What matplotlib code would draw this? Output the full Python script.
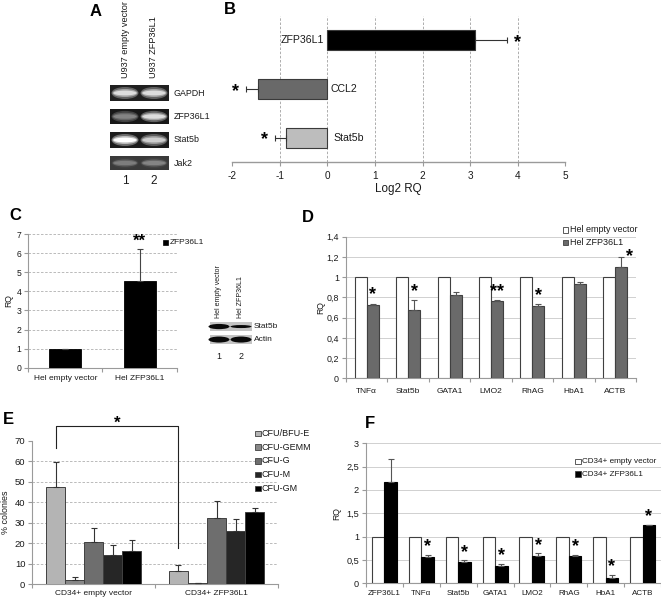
import matplotlib
matplotlib.use('Agg')
import matplotlib.pyplot as plt
import numpy as np
from matplotlib.patches import Rectangle, Ellipse
from matplotlib.ticker import FuncFormatter, FixedLocator

W, H = 661, 603
plt.rcParams['font.family'] = ['Liberation Sans', 'DejaVu Sans']
plt.rcParams['axes.unicode_minus'] = False

# ---------------- data ----------------
# Panel A (RT-PCR gel, band intensities per lane)
a_lanes = ['U937 empty vector', 'U937 ZFP36L1']
a_genes = ['GAPDH', 'ZFP36L1', 'Stat5b', 'Jak2']
a_gapdh = [0.85, 0.85]
a_zfp36l1 = [0.45, 0.85]
a_stat5b = [1.0, 0.78]
a_jak2 = [0.42, 0.45]

# Panel B
b_genes = ['Stat5b', 'CCL2', 'ZFP36L1']
b_log2rq = [-0.88, -1.47, 3.10]
b_err = [0.22, 0.25, 0.67]
b_sig = ['*', '*', '*']

# Panel C
c_groups = ['Hel empty vector', 'Hel ZFP36L1']
c_rq = [1.0, 4.55]
c_err = [0.0, 1.65]
c_sig = ['', '**']
c_blot_lanes = ['Hel empty vector', 'Hel ZFP36L1']
c_blot_stat5b = [0.95, 0.55]
c_blot_actin = [1.0, 1.0]

# Panel D
d_genes = ['TNFα', 'Stat5b', 'GATA1', 'LMO2', 'RhAG', 'HbA1', 'ACTB']
d_empty = [1, 1, 1, 1, 1, 1, 1]
d_zfp = [0.725, 0.675, 0.822, 0.762, 0.718, 0.928, 1.103]
d_err = [0.012, 0.097, 0.033, 0.008, 0.012, 0.022, 0.097]
d_sig = ['*', '*', '', '**', '*', '', '*']

# Panel E
e_groups = ['CD34+ empty vector', 'CD34+ ZFP36L1']
e_types = ['CFU/BFU-E', 'CFU-GEMM', 'CFU-G', 'CFU-M', 'CFU-GM']
e_bfu = [47.5, 6.5]
e_bfu_err = [12.0, 3.0]
e_gemm = [2.0, 0.4]
e_gemm_err = [1.5, 0.3]
e_g = [20.3, 32.3]
e_g_err = [7.2, 8.3]
e_m = [14.0, 25.7]
e_m_err = [5.2, 6.0]
e_gm = [16.0, 35.3]
e_gm_err = [5.5, 1.8]

# Panel F
f_genes = ['ZFP36L1', 'TNFα', 'Stat5b', 'GATA1', 'LMO2', 'RhAG', 'HbA1', 'ACTB']
f_empty = [1, 1, 1, 1, 1, 1, 1, 1]
f_zfp = [2.18, 0.57, 0.45, 0.37, 0.58, 0.58, 0.12, 1.24]
f_err = [0.48, 0.03, 0.04, 0.04, 0.06, 0.02, 0.05, 0.02]
f_sig = ['', '*', '*', '*', '*', '*', '*', '*']

# ---------------- helpers ----------------
fig = plt.figure(figsize=(W / 100, H / 100), dpi=100)
fig.patch.set_facecolor('white')


def px_axes(l, t, r, b):
    return fig.add_axes([l / W, 1 - b / H, (r - l) / W, (b - t) / H])


AX = '#9a9a9a'
TXT = '#1a1a1a'


def excel_axes(ax, ncat, ylabsize, xlabsize, xpad):
    for s in ['top', 'right']:
        ax.spines[s].set_visible(False)
    for s in ['left', 'bottom']:
        ax.spines[s].set_color(AX)
        ax.spines[s].set_linewidth(0.8)
    ax.set_xlim(-0.5, ncat - 0.5)
    ax.xaxis.set_major_locator(FixedLocator(np.arange(ncat)))
    ax.xaxis.set_minor_locator(FixedLocator(np.arange(ncat + 1) - 0.5))
    ax.tick_params(axis='x', which='major', length=0, labelsize=xlabsize, pad=xpad, colors=TXT)
    ax.tick_params(axis='x', which='minor', length=3, color=AX, width=0.8)
    ax.tick_params(axis='y', which='major', length=3, color=AX, width=0.8, labelsize=ylabsize,
                   colors=TXT, pad=2)
    ax.tick_params(axis='y', colors=AX, labelcolor=TXT)
    ax.tick_params(axis='x', which='major', labelcolor=TXT)
    ax.set_facecolor('none')


def comma_fmt(v, pos):
    s = ('%.1f' % v).rstrip('0').rstrip('.')
    return s.replace('.', ',')


def star(ax, x, y, s, dy=6.5, size=13):
    if s:
        ax.annotate(s, xy=(x, y), xytext=(0, dy), textcoords='offset points',
                    ha='center', va='center', fontsize=size, fontweight='bold',
                    color='black', annotation_clip=False)


ov = fig.add_axes([0, 0, 1, 1], zorder=20)
ov.set_xlim(0, W)
ov.set_ylim(H, 0)
ov.axis('off')
ov.patch.set_alpha(0)

# ---------------- Panel A ----------------
ov.text(96, 11, 'A', fontsize=12, fontweight='bold', ha='center', va='center')
lane_x = [125, 154]
for lx, lab in zip(lane_x, a_lanes):
    ov.text(lx, 78, lab, rotation=90, ha='center', va='bottom', fontsize=6.6, color=TXT)
rows = [(85, 101), (109, 124), (132, 148), (156, 170)]
row_vals = [a_gapdh, a_zfp36l1, a_stat5b, a_jak2]
row_bg = ['#202020', '#181818', '#1c1c1c', '#3a3a3a']
for (t, b), vals, lab, bg in zip(rows, row_vals, a_genes, row_bg):
    ov.add_patch(Rectangle((110, t), 59, b - t, facecolor=bg, edgecolor='none'))
    cy = (t + b) / 2
    for lx, v in zip(lane_x, vals):
        for sw, sh, f in [(1.08, 0.75, 0.35), (1.0, 0.5, 0.7), (0.92, 0.3, 1.0)]:
            g = min(1.0, 0.12 + v * f * 0.88)
            ov.add_patch(Ellipse((lx, cy), 25 * sw, (b - t) * sh, facecolor=(g, g, g),
                                 edgecolor='none'))
    ov.text(174, cy, lab, ha='left', va='center', fontsize=6.4, color=TXT)
for lx, n in zip(lane_x, ['1', '2']):
    ov.text(lx, 181, n, ha='center', va='center', fontsize=8.5, color=TXT)

# ---------------- Panel B ----------------
ov.text(230, 9, 'B', fontsize=12, fontweight='bold', ha='center', va='center')
axB = px_axes(232.3, 16, 565.3, 162.3)
yb = np.arange(len(b_genes))
b_colors = ['#bdbdbd', '#696969', '#000000']
for x in range(-1, 5):
    axB.axvline(x, color='#a0a0a0', lw=0.6, ls=(0, (3, 2)), zorder=1)
axB.barh(yb, b_log2rq, height=0.41, color=b_colors, edgecolor='#3a3a3a', lw=0.8, zorder=3)
lo = [e if v < 0 else 0 for v, e in zip(b_log2rq, b_err)]
hi = [e if v > 0 else 0 for v, e in zip(b_log2rq, b_err)]
axB.errorbar(b_log2rq, yb, xerr=[lo, hi], fmt='none', ecolor='#333333', elinewidth=0.8,
             capsize=2.5, capthick=0.8, zorder=4)
for y, v, e, s, g in zip(yb, b_log2rq, b_err, b_sig, b_genes):
    end = v + np.sign(v) * e
    axB.text(end + np.sign(v) * 0.22, y - 0.04, s, ha='center', va='center', fontsize=13,
             fontweight='bold')
    if v > 0:
        axB.text(-0.08, y, g, ha='right', va='center', fontsize=7.6, color=TXT)
    else:
        axB.text(0.07 if g == 'CCL2' else 0.12, y, g, ha='left', va='center', fontsize=7.6,
                 color=TXT)
axB.set_xlim(-2, 5)
axB.set_ylim(-0.5, 2.5)
axB.set_xticks(range(-2, 6))
axB.set_yticks([])
for s in ['top', 'right', 'left']:
    axB.spines[s].set_visible(False)
axB.spines['bottom'].set_color(AX)
axB.spines['bottom'].set_linewidth(1.0)
axB.tick_params(axis='x', length=3, color=AX, labelsize=7.2, pad=3, labelcolor=TXT)
axB.set_xlabel('Log2 RQ', fontsize=8.4, color=TXT, labelpad=2)
axB.set_facecolor('none')

# ---------------- Panel C ----------------
ov.text(15, 215, 'C', fontsize=12, fontweight='bold', ha='center', va='center')
axC = px_axes(28.3, 234, 176.7, 367.7)
xc = np.arange(len(c_groups))
for y in range(1, 8):
    axC.axhline(y, color='#b0b0b0', lw=0.6, ls=(0, (3, 2)), zorder=1)
axC.bar(xc, c_rq, width=0.43, color='black', edgecolor='black', lw=0.6, zorder=3)
axC.errorbar(xc, c_rq, yerr=[[0] * len(c_err), c_err], fmt='none', ecolor='#444444',
             elinewidth=0.8, capsize=2.5, capthick=0.8, zorder=4)
for x, v, e, s in zip(xc, c_rq, c_err, c_sig):
    star(axC, x, v + e, s, dy=5.5, size=12)
axC.set_ylim(0, 7)
axC.set_yticks(range(0, 8))
excel_axes(axC, 2, 6.2, 6.0, 5)
axC.set_xticklabels(c_groups)
axC.set_ylabel('RQ', fontsize=6.2, color=TXT)
axC.yaxis.set_label_coords(-15 / 148.4, 0.5)
# legend
ov.add_patch(Rectangle((163, 240), 5, 5, facecolor='black', edgecolor='black', lw=0.5))
ov.text(169.5, 242.8, 'ZFP36L1', fontsize=6.0, ha='left', va='center', color=TXT)

# western blot
bl_x = [219, 241]
for lx, lab in zip(bl_x, c_blot_lanes):
    ov.text(lx, 318, lab, rotation=90, ha='center', va='bottom', fontsize=5.0, color=TXT)
for (t, b), vals, lab, hmax in [((321.5, 331), c_blot_stat5b, 'Stat5b', 5.5),
                                ((334.5, 344), c_blot_actin, 'Actin', 6.0)]:
    ov.add_patch(Rectangle((210, t), 41.7, b - t, facecolor='#c4c4c4', edgecolor='none'))
    cy = (t + b) / 2
    for lx, v in zip(bl_x, vals):
        ov.add_patch(Ellipse((lx, cy + 0.3), 21, hmax * v, facecolor='#0a0a0a',
                             edgecolor='none'))
        ov.add_patch(Rectangle((lx - 9, cy + 0.3 - hmax * v * 0.3), 18, hmax * v * 0.6,
                               facecolor='#0a0a0a', edgecolor='none'))
    ov.text(254, cy, lab, ha='left', va='center', fontsize=6.0, color=TXT)
for lx, n in zip(bl_x, ['1', '2']):
    ov.text(lx, 356.5, n, ha='center', va='center', fontsize=6.4, color=TXT)

# ---------------- Panel D ----------------
ov.text(308, 218, 'D', fontsize=12, fontweight='bold', ha='center', va='center')
axD = px_axes(346, 236.7, 636, 378.3)
xd = np.arange(len(d_genes))
for y in np.arange(0.2, 1.41, 0.2):
    axD.axhline(y, color='#d0d0d0', lw=0.7, zorder=1)
bw = 0.29
axD.bar(xd - bw / 2, d_empty, width=bw, color='white', edgecolor='#404040', lw=0.8, zorder=3)
axD.bar(xd + bw / 2, d_zfp, width=bw, color='#6a6a6a', edgecolor='#404040', lw=0.8, zorder=3)
axD.errorbar(xd + bw / 2, d_zfp, yerr=[[0] * len(d_err), d_err], fmt='none', ecolor='#555555',
             elinewidth=0.8, capsize=2.2, capthick=0.8, zorder=4)
for x, v, e, s in zip(xd, d_zfp, d_err, d_sig):
    if s and v > 1:
        axD.annotate(s, xy=(x + bw / 2, v + e), xytext=(6, 0), textcoords='offset points',
                     ha='center', va='center', fontsize=13, fontweight='bold')
    else:
        star(axD, x + bw / 2, v + e, s)
axD.set_ylim(0, 1.4)
axD.set_yticks(np.arange(0, 1.41, 0.2))
axD.yaxis.set_major_formatter(FuncFormatter(comma_fmt))
excel_axes(axD, len(d_genes), 6.4, 6.0, 7)
axD.set_xticklabels(d_genes)
axD.set_ylabel('RQ', fontsize=6.2, color=TXT)
axD.yaxis.set_label_coords(-21 / 290, 0.5)
for i, (lab, fc) in enumerate([('Hel empty vector', 'white'), ('Hel ZFP36L1', '#6a6a6a')]):
    y = 230 + i * 12.7
    ov.add_patch(Rectangle((562.5, y - 2.8), 5.5, 5.5, facecolor=fc, edgecolor='#404040', lw=0.6))
    ov.text(569.5, y, lab, fontsize=6.5, ha='left', va='center', color=TXT)

# ---------------- Panel E ----------------
ov.text(8, 419, 'E', fontsize=12, fontweight='bold', ha='center', va='center')
axE = px_axes(32.3, 440.7, 278, 584)
xe = np.arange(len(e_groups))
for y in range(10, 70, 10):
    axE.axhline(y, color='#b0b0b0', lw=0.6, ls=(0, (3, 2)), zorder=1)
e_series = [e_bfu, e_gemm, e_g, e_m, e_gm]
e_errs = [e_bfu_err, e_gemm_err, e_g_err, e_m_err, e_gm_err]
e_colors = ['#b4b4b4', '#888888', '#6e6e6e', '#262626', '#000000']
ew = 0.155
for k, (vals, errs, col) in enumerate(zip(e_series, e_errs, e_colors)):
    xs = xe + (k - 2) * ew
    axE.bar(xs, vals, width=ew, color=col, edgecolor='#404040', lw=0.7, zorder=3)
    axE.errorbar(xs, vals, yerr=[[0] * len(errs), errs], fmt='none', ecolor='#333333',
                 elinewidth=0.8, capsize=2.5, capthick=0.8, zorder=4)
axE.set_ylim(0, 70)
axE.set_yticks(range(0, 71, 10))
excel_axes(axE, 2, 6.8, 6.0, 4)
axE.set_xticklabels(e_groups)
axE.set_ylabel('% colonies', fontsize=6.4, color=TXT)
axE.yaxis.set_label_coords(-22.5 / 245.7, 0.5)
# significance bracket between CFU/BFU-E bars
x1, x2 = xe[0] - 2 * ew, xe[1] - 2 * ew
axE.plot([x1, x1, x2, x2], [66.5, 77, 77, 17.5], color='#222222', lw=0.8, clip_on=False,
         zorder=5)
axE.text((x1 + x2) / 2, 78.5, '*', ha='center', va='center', fontsize=12, fontweight='bold',
         clip_on=False)
for i, (lab, col) in enumerate(zip(e_types, e_colors)):
    y = 433.3 + i * 13.75
    ov.add_patch(Rectangle((255, y - 2.8), 5.5, 5.5, facecolor=col, edgecolor='#404040', lw=0.6))
    ov.text(262, y, lab, fontsize=6.5, ha='left', va='center', color=TXT)

# ---------------- Panel F ----------------
ov.text(370, 423, 'F', fontsize=12, fontweight='bold', ha='center', va='center')
axF = px_axes(366, 443.3, 661, 583.3)
xf = np.arange(len(f_genes))
for y in np.arange(0.5, 3.01, 0.5):
    axF.axhline(y, color='#d0d0d0', lw=0.7, zorder=1)
fw = 0.34
axF.bar(xf - fw / 2, f_empty, width=fw, color='white', edgecolor='#404040', lw=0.8, zorder=3)
axF.bar(xf + fw / 2, f_zfp, width=fw, color='black', edgecolor='black', lw=0.8, zorder=3)
axF.errorbar(xf + fw / 2, f_zfp, yerr=[[0] * len(f_err), f_err], fmt='none', ecolor='#555555',
             elinewidth=0.8, capsize=2.2, capthick=0.8, zorder=4)
for x, v, e, s in zip(xf, f_zfp, f_err, f_sig):
    star(axF, x + fw / 2, v + e, s, dy=6)
axF.set_ylim(0, 3)
axF.set_yticks(np.arange(0, 3.01, 0.5))
axF.yaxis.set_major_formatter(FuncFormatter(comma_fmt))
excel_axes(axF, len(f_genes), 6.6, 5.8, 5)
axF.set_xticklabels(f_genes)
axF.set_ylabel('RQ', fontsize=6.2, color=TXT)
axF.yaxis.set_label_coords(-25 / 295, 0.5)
for i, (lab, fc) in enumerate([('CD34+ empty vector', 'white'), ('CD34+ ZFP36L1', 'black')]):
    y = 461.7 + i * 12.3
    ov.add_patch(Rectangle((575, y - 2.8), 5.5, 5.5, facecolor=fc, edgecolor='#404040', lw=0.6))
    ov.text(582, y, lab, fontsize=5.9, ha='left', va='center', color=TXT)

fig.savefig('out.png', dpi=100)
